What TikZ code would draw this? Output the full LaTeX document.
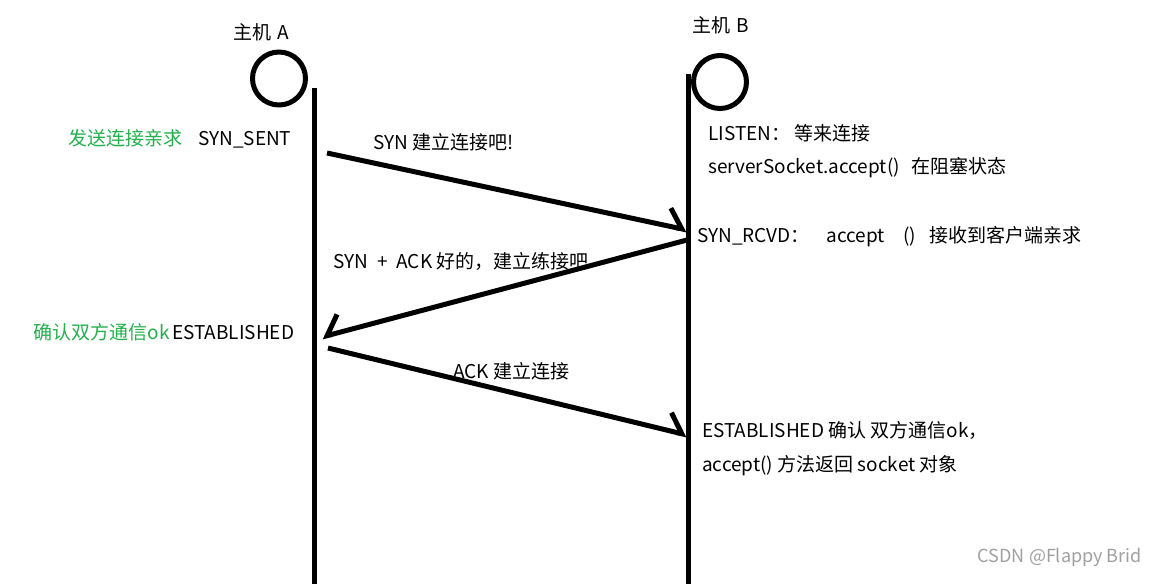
\documentclass[tikz,border=0pt]{standalone}
\usepackage{fontspec}
\setmainfont{Noto Sans CJK SC}
\usetikzlibrary{arrows.meta, positioning}
\definecolor{paintgreen}{HTML}{22B14C}
\definecolor{markgray}{HTML}{A0A0A0}

\begin{document}
\begin{tikzpicture}[
    x=1pt, y=-1pt,
    host/.style={draw, line width=5pt, circle, minimum size=53pt, inner sep=0pt},
    lifeline/.style={line width=5pt},
    msg/.style={line width=5pt, -{Straight Barb[left, length=15pt, width=36pt, line width=5pt]}},
    msgback/.style={line width=5pt, -{Straight Barb[right, length=15pt, width=36pt, line width=5pt]}},
    txt/.style={inner sep=0pt, anchor=base west, font=\fontsize{19}{23}\selectfont},
    remark/.style={txt, text=paintgreen},
]
\fill[white] (0,0) rectangle (1152,584);
\useasboundingbox (0,0) rectangle (1152,584);

% hosts and lifelines
\node[host] (hA) at (279,78.5) {};
\node[host] (hB) at (720,82) {};
\node[txt] (nameA) at (233,39) {主机\hspace{6pt}A};
\node[txt] (nameB) at (692,32) {主机\hspace{6pt}B};
\coordinate (a0) at (314,88);
\coordinate (a1) at (314,584);
\coordinate (b0) at (688.5,74);
\coordinate (b1) at (688.5,584);
\draw[lifeline] (a0) -- (a1);
\draw[lifeline] (b0) -- (b1);

% handshake
\coordinate (s1) at (327,153);
\coordinate (r1) at (687,230);
\coordinate (s2) at (687,240);
\coordinate (r2) at (322,337);
\coordinate (s3) at (328,348);
\coordinate (r3) at (687,435);
\draw[msg] (s1) -- (r1);
\draw[msgback] (s2) -- (r2);
\draw[msg] (s3) -- (r3);

% client side
\node[txt] (sent) at (198,145) {SYN\_SENT};
\node[remark, base left=15pt of sent] (sendreq) {发送连接亲求};
\node[txt] (estA) at (172,339) {ESTABLISHED};
\node[remark, base left=2pt of estA] (okA) {确认双方通信ok};

% messages
\node[txt] (m1) at (373,149) {SYN 建立连接吧!};
\node[txt] (m2) at (333,268) {SYN\hspace{9pt}+\hspace{9pt}ACK 好的，建立练接吧};
\node[txt] (m3) at (453,378) {ACK 建立连接};

% server side
\node[txt] (listen) at (708,140) {LISTEN：\hspace{4pt}等来连接};
\node[txt] (block) at (708,173) {serverSocket.accept()\hspace{12pt}在阻塞状态};
\node[txt] (rcvd) at (697,242) {SYN\_RCVD：\hspace{17pt}accept\hspace{18pt}()\hspace{14pt}接收到客户端亲求};
\node[txt] (estB) at (702,437) {ESTABLISHED 确认 双方通信ok，};
\node[txt] (ret) at (702,471) {accept() 方法返回 socket 对象};

\node[txt, anchor=base east, text=markgray, font=\fontsize{18}{22}\selectfont] (mark) at (1142,562) {CSDN @Flappy Brid};
\end{tikzpicture}
\end{document}
